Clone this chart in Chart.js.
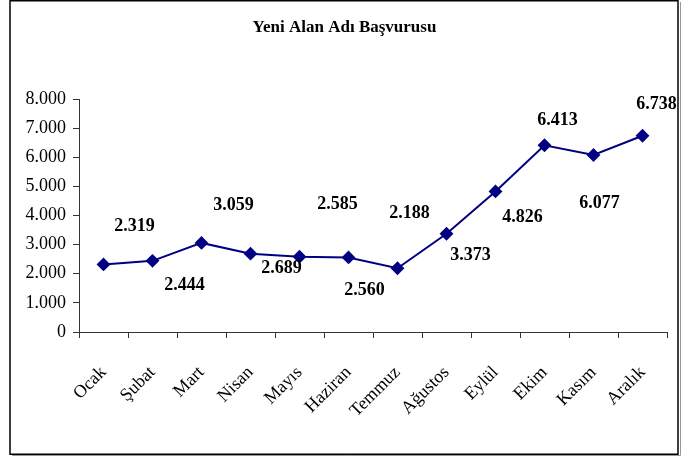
<!DOCTYPE html>
<html>
<head>
<meta charset="utf-8">
<script src="https://cdn.jsdelivr.net/npm/chart.js@4"></script>
<style>
  html, body { margin: 0; padding: 0; background: #fff; }
  #wrap { position: relative; width: 688px; height: 456px; }
</style>
</head>
<body>
<div id="wrap"><canvas id="chart"></canvas></div>
<script>
const months = ['Ocak', 'Şubat', 'Mart', 'Nisan', 'Mayıs', 'Haziran', 'Temmuz', 'Ağustos', 'Eylül', 'Ekim', 'Kasım', 'Aralık'];
const applications = [2319, 2444, 3059, 2689, 2585, 2560, 2188, 3373, 4826, 6413, 6077, 6738];
const yTicks = [0, 1000, 2000, 3000, 4000, 5000, 6000, 7000, 8000];

// where each value label sits relative to its marker (px)
const labelOffsets = [
    [31, -38], [32, 25], [32, -38], [31, 15], [38, -52], [16, 33],
    [12, -55], [24, 22], [27, 26], [13, -25], [6, 48], [14, -31]
];

const serif = "'Liberation Serif', 'Times New Roman', serif";
const navy = '#000080';

function fmt(v) {
    return String(v).replace(/\B(?=(\d{3})+(?!\d))/g, '.');
}

const valueLabels = {
    id: 'valueLabels',
    afterDatasetsDraw(chart) {
        const { ctx } = chart;
        const meta = chart.getDatasetMeta(0);
        ctx.save();
        ctx.font = 'bold 18px ' + serif;
        ctx.fillStyle = '#000';
        ctx.textAlign = 'center';
        ctx.textBaseline = 'middle';
        meta.data.forEach((pt, i) => {
            const [dx, dy] = labelOffsets[i];
            ctx.fillText(fmt(applications[i]), pt.x + dx, pt.y + dy);
        });
        ctx.restore();
    }
};

const frame = {
    id: 'frame',
    afterDraw(chart) {
        const { ctx } = chart;
        ctx.save();
        ctx.strokeStyle = '#999';
        ctx.lineWidth = 1;
        ctx.beginPath();
        ctx.moveTo(680.5, 2);
        ctx.lineTo(680.5, 455.5);
        ctx.lineTo(12, 455.5);
        ctx.stroke();
        ctx.strokeStyle = '#000';
        ctx.lineWidth = 1.5;
        ctx.strokeRect(10, 0.75, 668, 453.5);
        ctx.restore();
    }
};

new Chart(document.getElementById('chart'), {
    type: 'line',
    data: {
        labels: months,
        datasets: [{
            data: applications,
            borderColor: navy,
            backgroundColor: navy,
            borderWidth: 2,
            pointStyle: 'rectRot',
            pointRadius: 5.5,
            pointHoverRadius: 5.5,
            pointBackgroundColor: navy,
            pointBorderColor: navy,
            tension: 0
        }]
    },
    options: {
        responsive: true,
        maintainAspectRatio: false,
        animation: false,
        events: [],
        layout: { padding: { left: 22, right: 21, top: 0, bottom: 0 } },
        plugins: {
            legend: { display: false },
            tooltip: { enabled: false },
            title: {
                display: true,
                text: 'Yeni Alan Adı Başvurusu',
                color: '#000',
                font: { family: serif, size: 17, weight: 'bold' },
                padding: { top: 17.5, bottom: 61.1 }
            }
        },
        scales: {
            x: {
                offset: true,
                grid: { offset: true, drawOnChartArea: false, tickLength: 6, color: '#333' },
                border: { color: '#333', width: 1 },
                ticks: {
                    color: '#000',
                    font: { family: serif, size: 18 },
                    minRotation: 45,
                    maxRotation: 45,
                    padding: 24,
                    autoSkip: false
                },
                afterFit: s => { s.height = 124; }
            },
            y: {
                min: 0,
                max: 8000,
                afterBuildTicks: s => { s.ticks = yTicks.map(v => ({ value: v })); },
                grid: { drawOnChartArea: false, tickLength: 6, color: '#333' },
                border: { color: '#333', width: 1 },
                ticks: {
                    color: '#000',
                    font: { family: serif, size: 18 },
                    padding: 7,
                    callback: v => fmt(v)
                },
                afterFit: s => { s.width = 57; }
            }
        }
    },
    plugins: [valueLabels, frame]
});
</script>
</body>
</html>
